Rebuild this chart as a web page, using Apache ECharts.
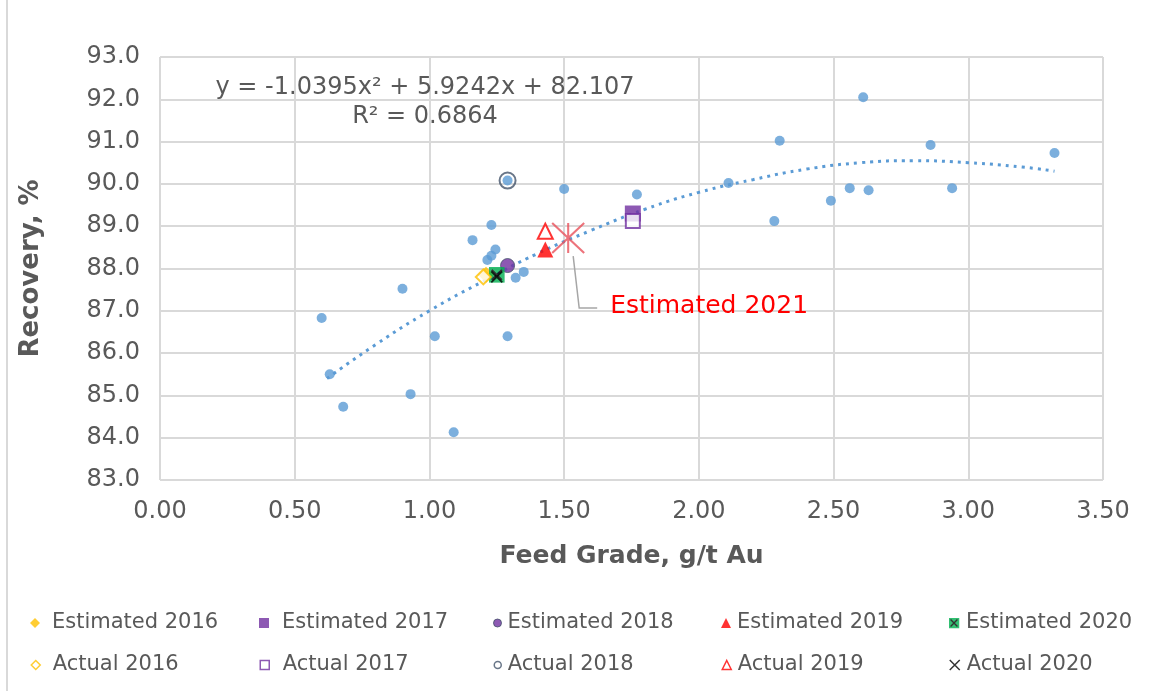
<!DOCTYPE html>
<html><head><meta charset="utf-8">
<script src="https://cdn.jsdelivr.net/npm/echarts@6/dist/echarts.min.js"></script>
<style>html,body{margin:0;padding:0;background:#fff}#c{width:1153px;height:691px}</style>
</head><body><div id="c"></div>
<script>
// ---- data ----
const gradeX    = [0.60, 0.63, 0.68, 0.90, 0.93, 1.02, 1.09, 1.16, 1.23, 1.245, 1.215, 1.23, 1.29, 1.29, 1.32, 1.35, 1.50, 1.77, 2.11, 2.30, 2.28, 2.49, 2.56, 2.63, 2.61, 2.86, 2.94, 3.32];
const recoveryY = [86.83, 85.50, 84.73, 87.52, 85.03, 86.40, 84.13, 88.67, 89.03, 88.45, 88.20, 88.30, 90.08, 86.40, 87.78, 87.92, 89.88, 89.75, 90.02, 91.02, 89.12, 89.60, 89.90, 89.85, 92.05, 90.92, 89.90, 90.73];

const trendX = [0.62, 0.8, 1.0, 1.2, 1.4, 1.6, 1.8, 2.0, 2.2, 2.4, 2.6, 2.8, 3.0, 3.2, 3.32];
const trendY = [85.4, 86.2, 87.0, 87.7, 88.35, 88.9, 89.4, 89.8, 90.1, 90.35, 90.5, 90.55, 90.5, 90.4, 90.3];

const yearNames = ['Estimated 2016', 'Estimated 2017', 'Estimated 2018', 'Estimated 2019', 'Estimated 2020',
                   'Actual 2016', 'Actual 2017', 'Actual 2018', 'Actual 2019', 'Actual 2020'];
const yearX = [1.21, 1.755, 1.29, 1.43, 1.25, 1.20, 1.755, 1.29, 1.43, 1.25];
const yearY = [87.85, 89.30, 88.07, 88.45, 87.85, 87.80, 89.12, 90.08, 88.88, 87.80];

const estimated2021 = [1.515, 88.72];
const estimated2021Label = 'Estimated 2021';

const equationText = 'y = -1.0395x² + 5.9242x + 82.107';
const r2Text = 'R² = 0.6864';
const xName = 'Feed Grade, g/t Au';
const yName = 'Recovery, %';

// ---- styles ----
const FONT = 'DejaVu Sans';
const TXT = '#595959';
const BLUE = '#5B9BD5';
const greenX = 'image://data:image/svg+xml;charset=utf-8,' + encodeURIComponent(
  '<svg xmlns="http://www.w3.org/2000/svg" width="16" height="16"><rect width="16" height="16" fill="#00B050"/><path d="M3,3L13,13M3,13L13,3" stroke="#000" stroke-width="2"/></svg>');
const yearStyles = {
  'Estimated 2016': {symbol: 'diamond', size: 16, legend: 10, item: {color: '#FFC000'}},
  'Estimated 2017': {symbol: 'rect', size: 16, legend: 10, item: {color: '#7030A0'}},
  'Estimated 2018': {symbol: 'circle', size: 14, legend: 8, item: {color: '#7030A0', borderColor: '#44546A', borderWidth: 1}},
  'Estimated 2019': {symbol: 'triangle', size: 16, legend: 10, item: {color: '#FF0000'}},
  'Estimated 2020': {symbol: greenX, size: 16, legend: 11, item: {}},
  'Actual 2016': {symbol: 'diamond', size: 15, legend: 9, item: {color: '#FFFFFF', borderColor: '#FFC000', borderWidth: 2}},
  'Actual 2017': {symbol: 'rect', size: 14, legend: 9, item: {color: '#FFFFFF', borderColor: '#7030A0', borderWidth: 2}},
  'Actual 2018': {symbol: 'circle', size: 16, legend: 7, item: {color: 'rgba(255,255,255,0)', borderColor: '#44546A', borderWidth: 2}},
  'Actual 2019': {symbol: 'triangle', size: 15, legend: 9, item: {color: '#FFFFFF', borderColor: '#FF0000', borderWidth: 2}},
  'Actual 2020': {symbol: 'path://M0,0L10,10M0,10L10,0', size: 11, legend: 10, item: {color: 'rgba(0,0,0,0)', borderColor: '#000000', borderWidth: 1.8}}
};
// legend placement: [iconCenterX, textStartX] per column, row tops
const legendCols = [[35, 52], [264, 282], [497, 507], [726, 737], [954, 966]];
const legendRowTops = [611, 653];

const chart = echarts.init(document.getElementById('c'), null, {renderer: 'canvas'});

const series = [
  {
    name: 'Data', type: 'scatter', symbol: 'circle', symbolSize: 10,
    itemStyle: {color: BLUE}, z: 2,
    data: gradeX.map((x, i) => [x, recoveryY[i]])
  },
  {
    name: 'Trend', type: 'line', smooth: true, showSymbol: false, symbol: 'none', z: 3,
    lineStyle: {color: BLUE, width: 3, type: [3, 5], cap: 'butt'},
    data: trendX.map((x, i) => [x, trendY[i]])
  }
];
yearNames.forEach((n, i) => {
  const s = yearStyles[n];
  series.push({
    name: n, type: 'scatter', symbol: s.symbol, symbolSize: s.size, z: 4 + i,
    itemStyle: s.item, data: [[yearX[i], yearY[i]]]
  });
});
series.push({
  name: estimated2021Label, type: 'scatter', z: 20,
  symbol: 'path://M0,0L32,30M0,30L32,0M16,0L16,30', symbolSize: [32, 30],
  itemStyle: {color: 'rgba(0,0,0,0)', borderColor: '#E8505A', borderWidth: 2},
  data: [estimated2021]
});

const legends = yearNames.map((n, i) => {
  const col = legendCols[i % 5];
  const row = Math.floor(i / 5);
  const sz = yearStyles[n].legend;
  const iconLeft = col[0] - sz / 2;
  return {
    data: [n], left: iconLeft, top: legendRowTops[row], orient: 'horizontal',
    itemWidth: sz, itemHeight: sz, padding: 0, selectedMode: false,
    itemStyle: {borderWidth: Math.min(1.5, yearStyles[n].item.borderWidth || 0)},
    textStyle: {fontFamily: FONT, fontSize: 21, color: TXT, lineHeight: 24, padding: [0, 0, 0, Math.max(0, col[1] - (iconLeft + sz + 5))]}
  };
});

chart.setOption({
  animation: false,
  backgroundColor: '#FFFFFF',
  grid: {left: 160, right: 50, top: 57, bottom: 211, containLabel: false},
  xAxis: {
    type: 'value', min: 0, max: 3.5, interval: 0.5,
    name: xName, nameLocation: 'middle', nameGap: 64,
    nameTextStyle: {fontFamily: FONT, fontSize: 25, fontWeight: 'bold', color: TXT},
    axisLine: {show: false}, axisTick: {show: false},
    axisLabel: {fontFamily: FONT, fontSize: 24, color: TXT, margin: 20, formatter: v => v.toFixed(2)},
    splitLine: {show: true, lineStyle: {color: '#D9D9D9', width: 2}}
  },
  yAxis: {
    type: 'value', min: 83, max: 93, interval: 1,
    name: yName, nameLocation: 'middle', nameGap: 116,
    nameTextStyle: {fontFamily: FONT, fontSize: 26, fontWeight: 'bold', color: TXT},
    axisLine: {show: false}, axisTick: {show: false},
    axisLabel: {fontFamily: FONT, fontSize: 24, color: TXT, margin: 20, formatter: v => v.toFixed(1)},
    splitLine: {show: true, lineStyle: {color: '#D9D9D9', width: 2}}
  },
  legend: legends,
  series: series
});

// annotations placed through the chart's own coordinate conversion
const p = chart.convertToPixel({xAxisIndex: 0, yAxisIndex: 0}, estimated2021);
chart.setOption({
  graphic: [
    {type: 'line', shape: {x1: 7, y1: 0, x2: 7, y2: 691}, style: {stroke: '#D9D9D9', lineWidth: 2}, silent: true},
    {type: 'text', style: {text: equationText, x: 425, y: 88, align: 'center', verticalAlign: 'middle', font: '24px "DejaVu Sans"', fill: TXT}},
    {type: 'text', style: {text: r2Text, x: 425, y: 117, align: 'center', verticalAlign: 'middle', font: '24px "DejaVu Sans"', fill: TXT}},
    {type: 'polyline', shape: {points: [[p[0] + 5, p[1] + 18], [p[0] + 11, p[1] + 70], [p[0] + 29, p[1] + 70]]}, style: {stroke: '#A6A6A6', lineWidth: 1.5, fill: null}, z: 15},
    {type: 'text', style: {text: estimated2021Label, x: p[0] + 42, y: p[1] + 68, align: 'left', verticalAlign: 'middle', font: '25px "DejaVu Sans"', fill: '#FF0000'}, z: 15}
  ]
});
</script></body></html>
